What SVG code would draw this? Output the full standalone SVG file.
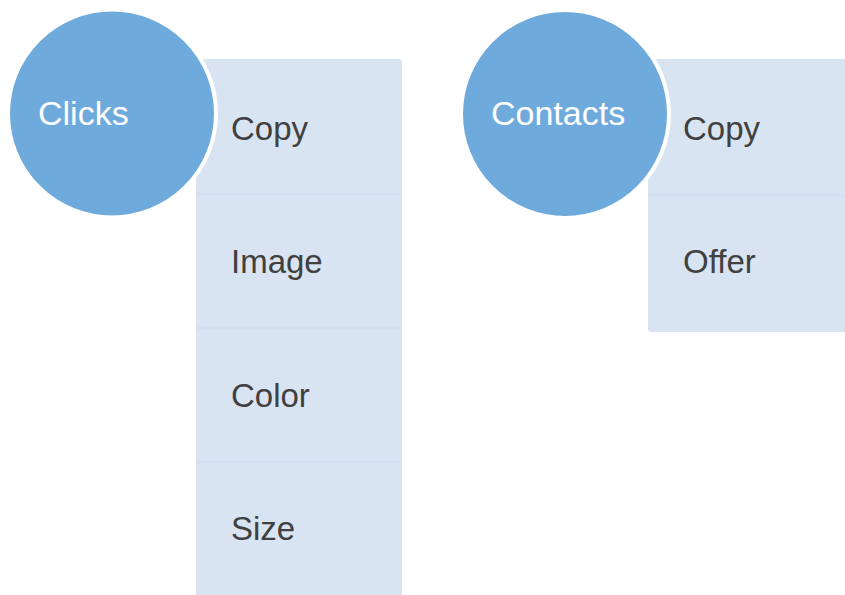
<svg xmlns="http://www.w3.org/2000/svg" width="845" height="595" viewBox="0 0 845 595">
  <style>
    .box { fill: #D9E4F2; }
    .sep { stroke: #D3DFEF; stroke-width: 3; }
    .circ { fill: #6FAADC; stroke: #FFFFFF; stroke-width: 4; }
    .head { font-family: "Liberation Sans", Arial, sans-serif; font-size: 34px; fill: #FFFFFF; }
    .item { font-family: "Liberation Sans", Arial, sans-serif; font-size: 33px; fill: #404040; }
  </style>
  <rect width="845" height="595" fill="#FFFFFF"/>
  <g id="clicks-list">
    <rect class="box" x="196" y="59" width="206" height="545" rx="3"/>
    <line class="sep" x1="196" y1="194" x2="402" y2="194"/>
    <line class="sep" x1="196" y1="328" x2="402" y2="328"/>
    <line class="sep" x1="196" y1="462" x2="402" y2="462"/>
    <text class="item" x="231" y="140">Copy</text>
    <text class="item" x="231" y="273">Image</text>
    <text class="item" x="231" y="407">Color</text>
    <text class="item" x="231" y="540">Size</text>
  </g>
  <g id="clicks">
    <circle class="circ" cx="112" cy="113.5" r="104"/>
    <text class="head" x="38" y="125">Clicks</text>
  </g>
  <g id="contacts-list">
    <rect class="box" x="648" y="59" width="210" height="273" rx="3"/>
    <line class="sep" x1="648" y1="195" x2="858" y2="195"/>
    <text class="item" x="683" y="140">Copy</text>
    <text class="item" x="683" y="273">Offer</text>
  </g>
  <g id="contacts">
    <circle class="circ" cx="565" cy="114" r="104"/>
    <text class="head" x="491" y="125">Contacts</text>
  </g>
  <g id="connectors"></g>
</svg>
